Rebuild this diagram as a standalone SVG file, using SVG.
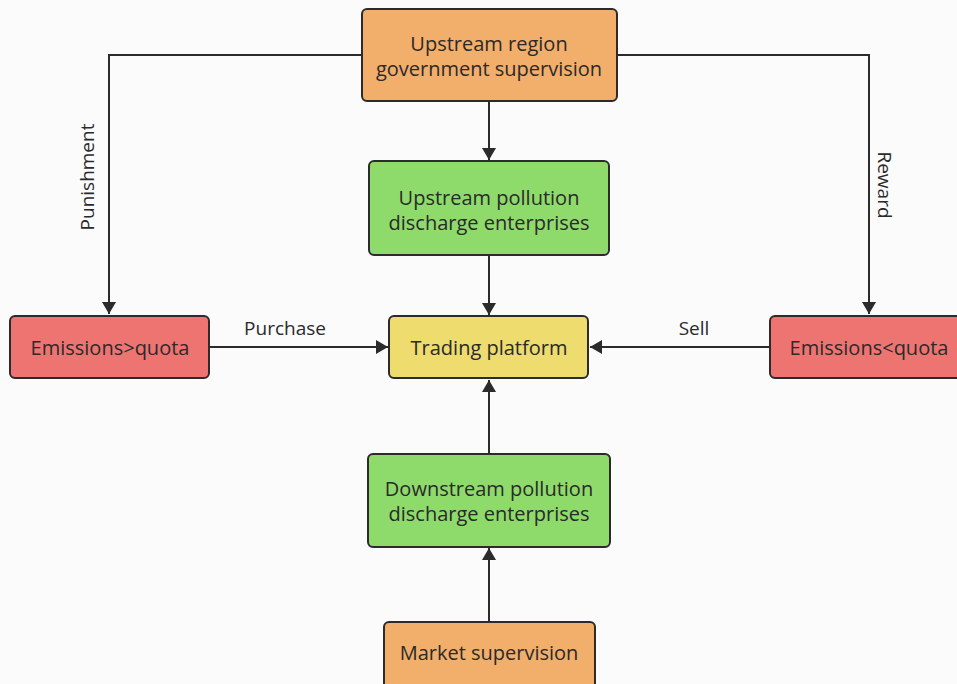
<svg xmlns="http://www.w3.org/2000/svg" width="957" height="684" viewBox="0 0 957 684">
<style>
.box{stroke:#2b2b2b;stroke-width:2}
.orange{fill:#F2AE6B}
.green{fill:#8EDB6B}
.yellow{fill:#EEDC6F}
.red{fill:#EE7472}
text{font-family:"Open Sans","Noto Sans","Liberation Sans",sans-serif;font-size:20px;fill:#2a2a2a;text-anchor:middle;dominant-baseline:central}
.edge{fill:none;stroke:#2b2b2b;stroke-width:2}
.lbl{font-size:19px}
</style>
<defs>
<marker id="arr" viewBox="0 0 12 14" refX="12" refY="7" markerWidth="12" markerHeight="14" markerUnits="userSpaceOnUse" orient="auto">
<path d="M0,0 L12,7 L0,14 Z" fill="#2b2b2b"/>
</marker>
</defs>
<rect width="957" height="684" fill="#FBFBFB"/>
<g id="connectors">
<path class="edge" d="M362,55 H109 V314" marker-end="url(#arr)"/>
<path class="edge" d="M617,55 H869 V314" marker-end="url(#arr)"/>
<path class="edge" d="M489,101 V160" marker-end="url(#arr)"/>
<path class="edge" d="M489,255 V315" marker-end="url(#arr)"/>
<path class="edge" d="M209,347 H388" marker-end="url(#arr)"/>
<path class="edge" d="M770,347 H590" marker-end="url(#arr)"/>
<path class="edge" d="M489,454 V380" marker-end="url(#arr)"/>
<path class="edge" d="M489,622 V548" marker-end="url(#arr)"/>
<text class="lbl" transform="translate(87,177) rotate(-90)">Punishment</text>
<text class="lbl" transform="translate(885,185) rotate(90)">Reward</text>
<text class="lbl" x="285" y="328">Purchase</text>
<text class="lbl" x="694" y="328">Sell</text>
</g>
<g id="gov">
<rect class="box orange" x="362" y="9" width="255" height="92" rx="5"/>
<text x="489" y="43">Upstream region</text>
<text x="489" y="68">government supervision</text>
</g>
<g id="upstream">
<rect class="box green" x="369" y="161" width="240" height="94" rx="5"/>
<text x="489" y="197">Upstream pollution</text>
<text x="489" y="222">discharge enterprises</text>
</g>
<g id="trading">
<rect class="box yellow" x="389" y="316" width="199" height="62" rx="5"/>
<text x="489" y="347">Trading platform</text>
</g>
<g id="over">
<rect class="box red" x="10" y="316" width="199" height="62" rx="5"/>
<text x="110" y="347">Emissions&gt;quota</text>
</g>
<g id="under">
<rect class="box red" x="770" y="316" width="197" height="62" rx="5"/>
<text x="869" y="347">Emissions&lt;quota</text>
</g>
<g id="downstream">
<rect class="box green" x="368" y="454" width="242" height="93" rx="5"/>
<text x="489" y="488">Downstream pollution</text>
<text x="489" y="513">discharge enterprises</text>
</g>
<g id="market">
<rect class="box orange" x="384" y="622" width="211" height="70" rx="5"/>
<text x="489" y="652">Market supervision</text>
</g>
</svg>
